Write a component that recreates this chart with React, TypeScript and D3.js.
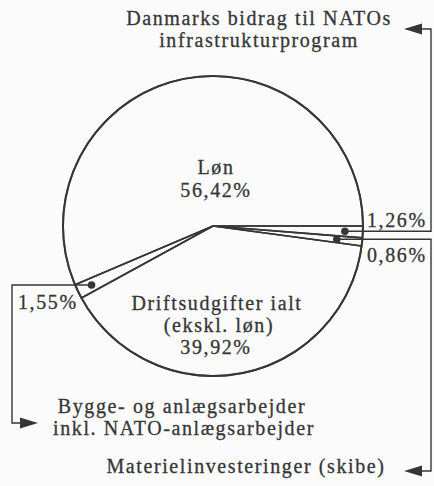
import React from "react";
import * as d3 from "d3";

// Slices in clockwise order starting at 3 o'clock
const categories = [
  "Danmarks bidrag til NATOs infrastrukturprogram",
  "Materielinvesteringer (skibe)",
  "Driftsudgifter ialt (ekskl. løn)",
  "Bygge- og anlægsarbejder inkl. NATO-anlægsarbejder",
  "Løn",
];
const values = [1.26, 0.86, 39.92, 1.55, 56.42];

const fmt = (v: number) => v.toFixed(2).replace(".", ",") + "%";

const W = 434;
const H = 486;
const cx = 213;
const cy = 226;
const R = 150;
const INK = "#363636";
const FONT = "'Liberation Serif', 'Times New Roman', serif";
const FS = 20;
const LS = 1.6;

export default function App() {
  const pie = d3
    .pie<number>()
    .sort(null)
    .startAngle(Math.PI / 2)
    .endAngle(Math.PI / 2 + 2 * Math.PI);
  const arcs = pie(values);
  const arcGen = d3.arc<d3.PieArcDatum<number>>().innerRadius(0).outerRadius(R);

  const pt = (a: number, r: number): [number, number] => [
    cx + r * Math.sin(a),
    cy - r * Math.cos(a),
  ];
  const mid = (i: number) => (arcs[i].startAngle + arcs[i].endAngle) / 2;

  const dotNato = pt(mid(0), R * 0.88);
  const dotMat = pt(mid(1), R * 0.83);
  const dotByg = pt(mid(3), R * 0.9);

  const xRight = 431;
  const xLeft = 12;
  const line = d3.line();

  const leaderNato = line([dotNato, [xRight, dotNato[1]], [xRight, 29], [421, 29]]);
  const leaderMat = line([dotMat, [xRight, dotMat[1]], [xRight, 471], [421, 471]]);
  const leaderByg = line([dotByg, [xLeft, dotByg[1]], [xLeft, 423], [21, 423]]);

  const arrowLeft = (x: number, y: number) =>
    line([[x, y], [x + 18, y - 5.5], [x + 18, y + 5.5]]) + "Z";
  const arrowRight = (x: number, y: number) =>
    line([[x, y], [x - 18, y - 5.5], [x - 18, y + 5.5]]) + "Z";

  const textStyle: React.CSSProperties = {
    fontFamily: FONT,
    fontSize: FS,
    letterSpacing: LS,
    fill: INK,
    stroke: INK,
    strokeWidth: 0.3,
  };

  return (
    <svg
      width={W}
      height={H}
      style={{ position: "absolute", left: 0, top: 0, background: "#fbfbfb" }}
    >
      <g>
        {arcs.map((a, i) => (
          <path
            key={i}
            d={arcGen(a) || ""}
            transform={`translate(${cx},${cy})`}
            fill="none"
            stroke={INK}
            strokeWidth={1.6}
            strokeLinejoin="round"
          />
        ))}
        <circle cx={cx} cy={cy} r={R} fill="none" stroke={INK} strokeWidth={2} />
      </g>

      <g fill="none" stroke={INK} strokeWidth={1.4}>
        <path d={leaderNato || ""} />
        <path d={leaderMat || ""} />
        <path d={leaderByg || ""} />
      </g>
      <g fill={INK}>
        <circle cx={dotNato[0]} cy={dotNato[1]} r={3.8} />
        <circle cx={dotMat[0]} cy={dotMat[1]} r={3.8} />
        <circle cx={dotByg[0]} cy={dotByg[1]} r={3.8} />
        <path d={arrowLeft(404, 29)} />
        <path d={arrowLeft(404, 471)} />
        <path d={arrowRight(38, 423)} />
      </g>

      <g style={textStyle}>
        <text x={216} y={174} textAnchor="middle">{categories[4]}</text>
        <text x={216} y={197} textAnchor="middle">{fmt(values[4])}</text>

        <text x={217} y={310} textAnchor="middle">Driftsudgifter ialt</text>
        <text x={219} y={332} textAnchor="middle">(ekskl. løn)</text>
        <text x={216} y={354} textAnchor="middle">{fmt(values[2])}</text>

        <text x={367} y={227}>{fmt(values[0])}</text>
        <text x={367} y={262}>{fmt(values[1])}</text>
        <text x={18} y={309}>{fmt(values[3])}</text>

        <text x={259} y={25} textAnchor="middle">Danmarks bidrag til NATOs</text>
        <text x={259} y={47} textAnchor="middle">infrastrukturprogram</text>

        <text x={182} y={413} textAnchor="middle">Bygge- og anlægsarbejder</text>
        <text x={184} y={435} textAnchor="middle">inkl. NATO-anlægsarbejder</text>

        <text x={246} y={473} textAnchor="middle">{categories[1]}</text>
      </g>
    </svg>
  );
}
